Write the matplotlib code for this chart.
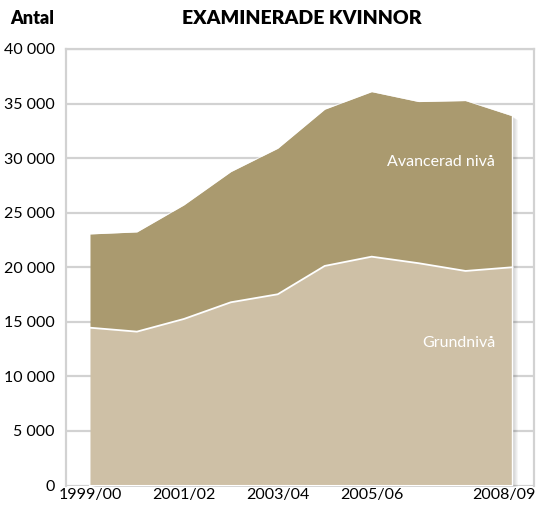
import matplotlib
matplotlib.use("Agg")
import matplotlib.pyplot as plt
import matplotlib.transforms as mtransforms
import numpy as np

years = ["1999/00", "2000/01", "2001/02", "2002/03", "2003/04",
         "2004/05", "2005/06", "2006/07", "2007/08", "2008/09"]
grundniva = [14460, 14100, 15260, 16790, 17525, 20120, 20970, 20370, 19660, 20000]
avancerad = [8590, 9135, 10450, 11970, 13375, 14360, 15120, 14810, 15610, 13870]
shown_ticks = ["1999/00", "2001/02", "2003/04", "2005/06", "2008/09"]
y_ticks = [0, 5000, 10000, 15000, 20000, 25000, 30000, 35000, 40000]

plt.rcParams['font.family'] = ['Lato', 'DejaVu Sans']

fig = plt.figure(figsize=(5.37, 5.13), dpi=100)
ax = fig.add_axes([66/537, 27.5/513, 468/537, 436.5/513])

x = np.arange(len(years))
g = np.array(grundniva)
total = g + np.array(avancerad)

grid_c = "#D2D2D2"
for yv in y_ticks:
    ax.axhline(yv, color=grid_c, lw=1.6, zorder=0)

# soft shadow
for i in range(5):
    off = mtransforms.ScaledTranslation((i + 1) * 1.0 / 100, -(i + 1) * 0.7 / 100, fig.dpi_scale_trans)
    ax.fill_between(x, 0, total, color="black", alpha=0.035, lw=0,
                    transform=ax.transData + off, zorder=1)

dark = "#AA9A6F"
light = "#CEC0A6"
ax.fill_between(x, g, total, color=dark, lw=0, zorder=2)
ax.fill_between(x, 0, g, color=light, lw=0, zorder=2)
ax.plot(x, g, color="white", lw=1.3, zorder=3)
ax.plot(x, total, color="white", lw=0.6, alpha=0.8, zorder=3)
ax.plot([x[-1], x[-1]], [0, total[-1]], color="white", lw=1.0, zorder=3)
ax.plot([x[0], x[-1]], [0, 0], color="white", lw=1.5, zorder=3)

ax.text(8.63, 29600, "Avancerad nivå", color="white", fontsize=11.5, ha="right", va="center", zorder=4)
ax.text(8.63, 13100, "Grundnivå", color="white", fontsize=11.5, ha="right", va="center", zorder=4)

ax.set_xlim(-0.511, 9.458)
ax.set_ylim(0, 40000)

ax.set_yticks(y_ticks)
ax.set_yticklabels([f"{v:,}".replace(",", " ") for v in y_ticks], fontsize=11.5)
tick_pos = [years.index(t) for t in shown_ticks]
ax.set_xticks(tick_pos)
ax.set_xticklabels(shown_ticks, fontsize=11.5)
ax.tick_params(axis="both", length=0, colors="black")
ax.tick_params(axis="y", pad=8)
ax.tick_params(axis="x", pad=2)
lbls = ax.get_xticklabels()
last = lbls[-1]
last.set_ha("right")
last.set_transform(last.get_transform() + mtransforms.ScaledTranslation(0.23, 0, fig.dpi_scale_trans))

for s in ["left", "right", "top"]:
    ax.spines[s].set_color(grid_c)
    ax.spines[s].set_linewidth(1.6)
ax.spines["bottom"].set_visible(False)

fig.text(10/537, 1 - 18/513, "Antal", fontsize=13, fontweight="heavy", ha="left", va="center")
fig.text(302/537, 1 - 18/513, "EXAMINERADE KVINNOR", fontsize=14, fontweight="heavy", ha="center", va="center")

fig.savefig("out.png", dpi=100)
